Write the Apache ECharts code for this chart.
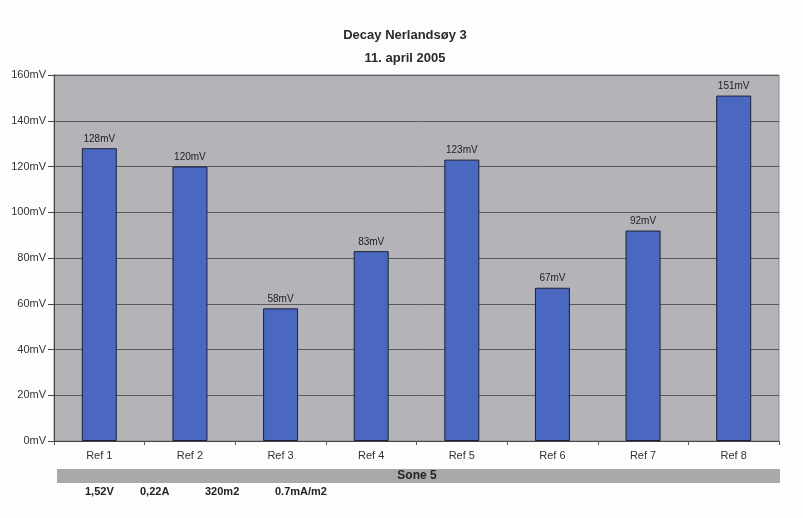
<!DOCTYPE html>
<html>
<head>
<meta charset="utf-8">
<script src="https://cdn.jsdelivr.net/npm/echarts@6/dist/echarts.min.js"></script>
<style>
html,body{margin:0;padding:0;background:#fdfdfd;}
#c{width:803px;height:518px;}
</style>
</head>
<body>
<div id="c"></div>
<script>
const categories = ['Ref 1','Ref 2','Ref 3','Ref 4','Ref 5','Ref 6','Ref 7','Ref 8'];
const values = [128, 120, 58, 83, 123, 67, 92, 151];
const yTicks = [0, 20, 40, 60, 80, 100, 120, 140, 160];
const zoneLabel = 'Sone 5';
const footerTexts = ['1,52V', '0,22A', '320m2', '0.7mA/m2'];
const titleText = 'Decay Nerlandsøy 3';
const subtitleText = '11. april 2005';

const chart = echarts.init(document.getElementById('c'), null, {renderer:'canvas'});
const footerX = [85, 140, 205, 275];
const FONT = 'Arial, "Liberation Sans", sans-serif';
const graphics = [
  {type:'rect', shape:{x:57, y:469, width:723, height:14}, style:{fill:'#a9a9ab'}},
  {type:'text', x:417, y:476, style:{text:zoneLabel, font:'bold 12px ' + FONT, fill:'#222', align:'center', verticalAlign:'middle'}}
];
footerTexts.forEach((t,i)=>{
  graphics.push({type:'text', x:footerX[i], y:492, style:{text:t, font:'bold 11px ' + FONT, fill:'#222', align:'left', verticalAlign:'middle'}});
});

chart.setOption({
  backgroundColor:'#fdfdfd',
  animation:false,
  title:[
    {text:titleText, left:400, top:24, textAlign:'center', textStyle:{fontSize:13, fontWeight:'bold', color:'#2a2a2a', fontFamily:FONT}},
    {text:subtitleText, left:400, top:47, textAlign:'center', textStyle:{fontSize:13, fontWeight:'bold', color:'#2a2a2a', fontFamily:FONT}}
  ],
  grid:{left:54, right:24, top:75, bottom:77, show:true, backgroundColor:'#b4b4b8', borderColor:'#8a8a8a', borderWidth:1},
  xAxis:{
    type:'category', data:categories,
    axisLine:{lineStyle:{color:'#444', width:1}},
    axisTick:{show:true, length:4, lineStyle:{color:'#555'}},
    axisLabel:{color:'#333', fontSize:11, margin:9, fontFamily:FONT}
  },
  yAxis:{
    type:'value', min:0, max:160, interval:20,
    axisLine:{show:true, lineStyle:{color:'#444'}},
    axisTick:{show:true, length:6, lineStyle:{color:'#444'}},
    axisLabel:{color:'#333', fontSize:11, margin:8, formatter:v=>yTicks.includes(v)? v+'mV':'', fontFamily:FONT},
    splitLine:{lineStyle:{color:'#5a5a5e', width:1}}
  },
  series:[{
    type:'bar', data:values, barWidth:35,
    itemStyle:{color:'#4a68c0', borderColor:'#1c1f3a', borderWidth:1},
    label:{show:true, position:'top', formatter:p=>p.value+'mV', color:'#222', fontSize:10, distance:4, fontFamily:FONT}
  }],
  graphic:graphics
});
</script>
</body>
</html>
